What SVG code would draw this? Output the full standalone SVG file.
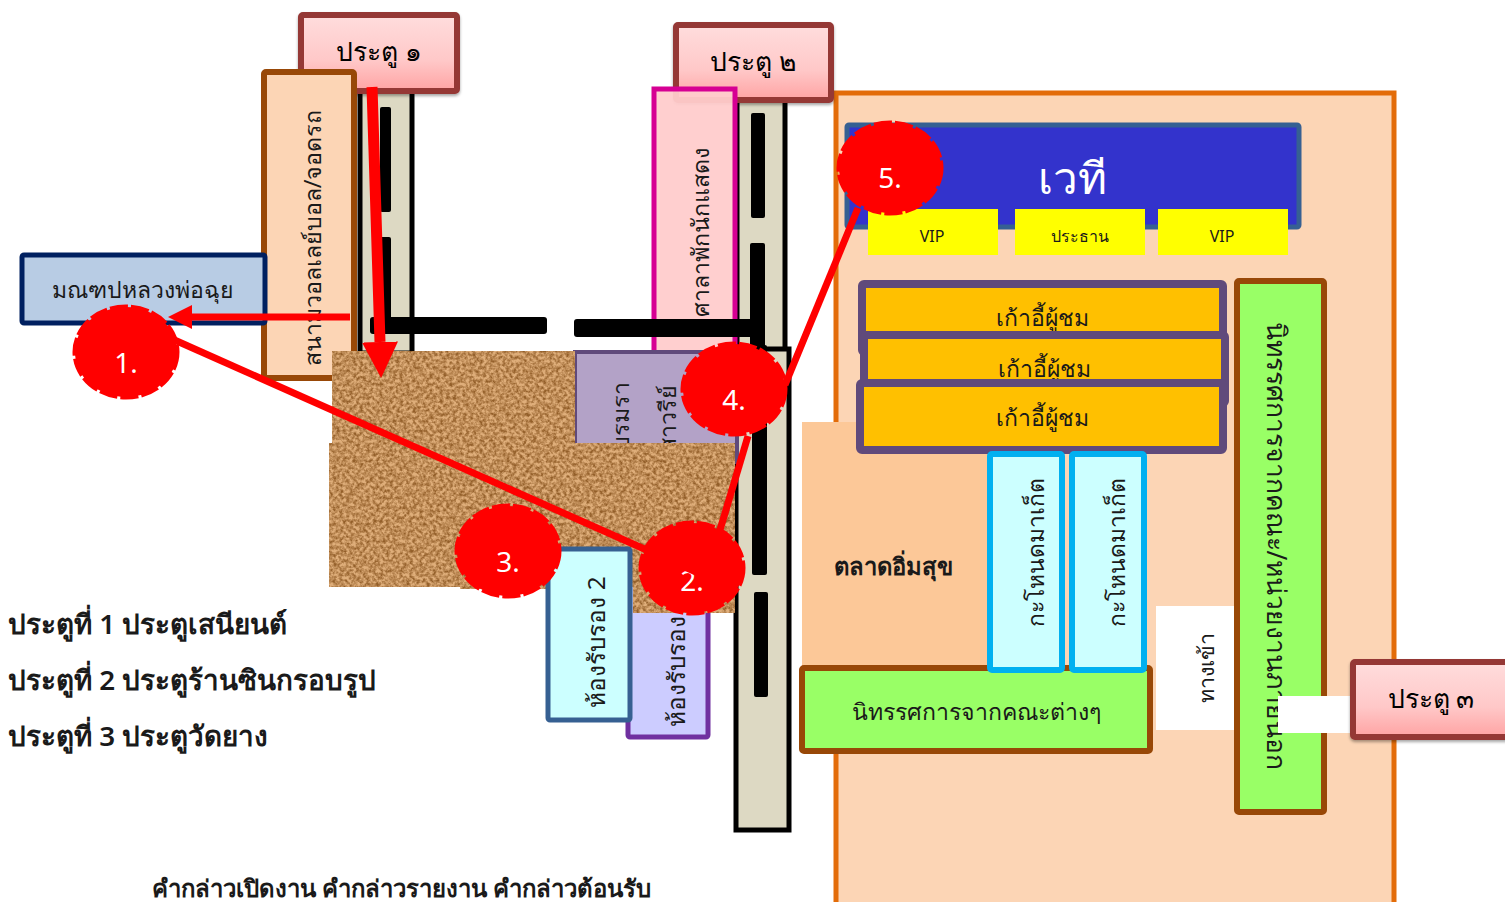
<svg xmlns="http://www.w3.org/2000/svg" width="1505" height="902" viewBox="0 0 1505 902">
<defs>
<linearGradient id="gatefill" x1="0" y1="0" x2="0" y2="1"><stop offset="0" stop-color="#ffdddd"/><stop offset="0.6" stop-color="#ffc8c8"/><stop offset="1" stop-color="#ffa3a3"/></linearGradient>
<filter id="cork" x="0" y="0" width="100%" height="100%" color-interpolation-filters="sRGB">
<feTurbulence type="fractalNoise" baseFrequency="0.3" numOctaves="3" seed="7" result="n"/>
<feColorMatrix in="n" type="matrix" values="0 0 0 0 0 0 0 0 0 0 0 0 0 0 0 2.2 0 0 0 -0.7" result="a"/>
<feFlood flood-color="#dfae7a"/><feComposite operator="in" in2="SourceAlpha" result="base"/>
<feFlood flood-color="#935f2a"/><feComposite operator="in" in2="a" result="dark"/>
<feMerge result="m"><feMergeNode in="base"/><feMergeNode in="dark"/></feMerge>
<feComposite in="m" in2="SourceAlpha" operator="in"/>
</filter>
<filter id="shadow" x="-5%" y="-5%" width="110%" height="115%"><feDropShadow dx="0" dy="2" stdDeviation="1.5" flood-color="#000" flood-opacity="0.35"/></filter>
<marker id="ah" markerUnits="userSpaceOnUse" markerWidth="38" markerHeight="38" refX="0" refY="19" orient="auto"><path d="M0 1 L36 19 L0 37 Z" fill="#f00"/></marker>
<marker id="ahs" markerUnits="userSpaceOnUse" markerWidth="26" markerHeight="26" refX="0" refY="13" orient="auto"><path d="M0 1 L24 13 L0 25 Z" fill="#f00"/></marker>
</defs>
<style>
text{font-family:"Noto Sans","Liberation Sans","DejaVu Sans",sans-serif;fill:#1a1a1a;text-anchor:middle;dominant-baseline:central}
.gate rect{fill:url(#gatefill);stroke:#953735;stroke-width:6;filter:url(#shadow)}
.gate text{font-size:26.5px;font-weight:500;fill:#000}
.v{font-size:23.3px}
.road{fill:#ddd9c3;stroke:#000;stroke-width:5}
.bar{fill:#000}
.chair rect{fill:#ffc000;stroke:#604a7b;stroke-width:8}
.chair text{font-size:23px}
.yel rect{fill:#ff0}
.yel text{font-size:16px}
.cyan rect{fill:#ccffff;stroke:#00b0f0;stroke-width:6}
.cyan text{font-size:22.8px}
.green rect{fill:#99ff66;stroke:#984807;stroke-width:6}
.note{font-size:27.8px;font-weight:600;text-anchor:start}
.route{stroke:#f00;stroke-width:7;fill:none}
.num ellipse{fill:#f00;stroke:#f00;stroke-width:5;stroke-dasharray:18 3}
.num text{fill:#fff;font-size:28px}
.corkfill{filter:url(#cork);fill:#000}
</style>

<g id="venue"><rect x="836" y="93" width="558" height="830" fill="#fcd5b5" stroke="#e36c09" stroke-width="5"/></g>

<g id="road-1"><rect class="road" x="360" y="88" width="52" height="265"/><rect class="bar" x="380" y="107" width="11" height="105" rx="2"/><rect class="bar" x="380" y="237" width="11" height="90" rx="2"/></g>
<g id="road-2"><rect class="road" x="737" y="98" width="48" height="260"/><rect class="road" x="736" y="349" width="53" height="481"/>
<rect class="bar" x="751" y="113" width="14" height="105" rx="2"/><rect class="bar" x="750" y="243" width="15" height="110" rx="2"/><rect class="bar" x="752" y="345" width="15" height="230" rx="2"/><rect class="bar" x="754" y="592" width="14" height="105" rx="2"/></g>
<g id="gate-1" class="gate"><rect x="301" y="15" width="156" height="76" rx="2"/><text x="379" y="51">ประตู ๑</text></g>
<g id="gate-2" class="gate"><rect x="676" y="25" width="155" height="75" rx="2"/><text x="753" y="61">ประตู ๒</text></g>

<g id="field"><rect x="264" y="72" width="90" height="306" rx="2" fill="#fcd5b5" stroke="#984807" stroke-width="6"/><text class="v" transform="translate(312 238) rotate(-90)">สนามวอลเลย์บอล/จอดรถ</text></g>
<g id="hall"><rect x="22" y="255" width="243" height="68" rx="2" fill="#b8cce4" stroke="#002060" stroke-width="5"/><text x="142" y="289" font-size="23">มณฑปหลวงพ่อฉุย</text></g>
<g id="pavilion"><rect x="654" y="89" width="81" height="275" fill="#ffcccc" fill-opacity="0.95" stroke="#d60093" stroke-width="5"/><text class="v" transform="translate(700 232) rotate(-90)">ศาลาพักนักแสดง</text></g>
<rect class="bar" x="370" y="317" width="177" height="17" rx="3"/><rect class="bar" x="574" y="319" width="186" height="18" rx="3"/>

<g id="training"><rect x="575" y="352" width="162" height="110" fill="#b3a2c7" stroke="#604a7b" stroke-width="4"/><text class="v" transform="translate(620 382) rotate(-90)" style="text-anchor:end">อบรมรา</text><text class="v" transform="translate(667 385) rotate(-90)" style="text-anchor:end">สาวรีย์</text></g>
<g id="room-b"><rect x="628" y="570" width="80" height="167" rx="2" fill="#ccccff" stroke="#7030a0" stroke-width="5"/><text transform="translate(675 671) rotate(-90)" font-size="24.3">ห้องรับรอง</text></g>
<g id="cork-floor"><rect class="corkfill" x="332" y="351" width="243" height="95"/><rect class="corkfill" x="329" y="443" width="406" height="144"/><rect class="corkfill" x="460" y="560" width="100" height="29"/><rect class="corkfill" x="633" y="470" width="102" height="143"/></g>
<g id="room-a"><rect x="548" y="549" width="82" height="171" rx="2" fill="#ccffff" stroke="#366092" stroke-width="5"/><text transform="translate(595 642) rotate(-90)" font-size="24.3">ห้องรับรอง 2</text></g>

<g id="stage"><rect x="847" y="125" width="452" height="102" rx="2" fill="#3333cc" stroke="#366092" stroke-width="5"/><text x="1072" y="177" font-size="44" style="fill:#fff">เวที</text></g>
<g id="vip-1" class="yel"><rect x="868" y="209" width="130" height="46"/><text x="932" y="236">VIP</text></g>
<g id="chair-head" class="yel"><rect x="1015" y="209" width="130" height="46"/><text x="1080" y="236">ประธาน</text></g>
<g id="vip-2" class="yel"><rect x="1158" y="209" width="130" height="46"/><text x="1222" y="236">VIP</text></g>

<g id="market"><rect x="802" y="422" width="190" height="248" fill="#fcc898"/><text x="893" y="566" font-size="23.8" font-weight="600">ตลาดอิ่มสุข</text></g>
<g id="seats-1" class="chair"><rect x="862" y="284" width="361" height="68" rx="2"/><text x="1042" y="317">เก้าอี้ผู้ชม</text></g>
<g id="seats-2" class="chair"><rect x="864" y="335" width="361" height="68" rx="2"/><text x="1044" y="368">เก้าอี้ผู้ชม</text></g>
<g id="seats-3" class="chair"><rect x="860" y="383" width="363" height="67" rx="2"/><text x="1042" y="417">เก้าอี้ผู้ชม</text></g>
<g id="exhibit-bottom" class="green"><rect x="802" y="668" width="348" height="83" rx="2"/><text x="976" y="711" font-size="23.1">นิทรรศการจากคณะต่างๆ</text></g>
<g id="booth-1" class="cyan"><rect x="990" y="454" width="72" height="216" rx="2"/><text transform="translate(1035 552) rotate(-90)">กะโหนดมาเก็ต</text></g>
<g id="booth-2" class="cyan"><rect x="1072" y="454" width="72" height="216" rx="2"/><text transform="translate(1116 552) rotate(-90)">กะโหนดมาเก็ต</text></g>
<g id="entrance"><rect x="1156" y="606" width="80" height="124" fill="#fff"/><text transform="translate(1205 668) rotate(-90)" font-size="21.5">ทางเข้า</text></g>
<g id="exhibit-right" class="green"><rect x="1237" y="281" width="87" height="531" rx="2"/><text transform="translate(1277 546) rotate(90)" font-size="26.5">นิทรรศการจากคณะ/หน่วยงานภายนอก</text></g>
<g id="gap"><rect x="1278" y="696" width="74" height="37" fill="#fff"/></g>
<g id="gate-3" class="gate"><rect x="1353" y="662" width="160" height="75" rx="2"/><text x="1431" y="698">ประตู ๓</text></g>

<g id="marker-2" class="num"><ellipse cx="692" cy="568" rx="51" ry="45"/><text x="692" y="580">2.</text></g>
<g id="connectors">
<path class="route" d="M372 87 L380 342" style="stroke-width:11" marker-end="url(#ah)"/>
<path class="route" d="M350 317 L192 317" marker-end="url(#ahs)"/>
<path class="route" d="M170 338 L696 572"/>
<path class="route" d="M720 530 L748 436"/>
<path class="route" d="M785 385 L858 208"/>
</g>

<g id="marker-1" class="num"><ellipse cx="126" cy="352" rx="51" ry="45"/><text x="126" y="362">1.</text></g>
<g id="marker-3" class="num"><ellipse cx="508" cy="551" rx="51" ry="45"/><text x="508" y="561">3.</text></g>
<g id="marker-4" class="num"><ellipse cx="734" cy="389" rx="51" ry="45"/><text x="734" y="399">4.</text></g>
<g id="marker-5" class="num"><ellipse cx="890" cy="168" rx="51" ry="45"/><text x="890" y="177">5.</text></g>

<g id="notes">
<text class="note" x="8" y="623">ประตูที่ 1 ประตูเสนียนต์</text>
<text class="note" x="8" y="679">ประตูที่ 2 ประตูร้านซินกรอบรูป</text>
<text class="note" x="8" y="735">ประตูที่ 3 ประตูวัดยาง</text>
<text class="note" x="152" y="887" style="font-size:23.9px">คำกล่าวเปิดงาน คำกล่าวรายงาน คำกล่าวต้อนรับ</text>
</g>
</svg>
